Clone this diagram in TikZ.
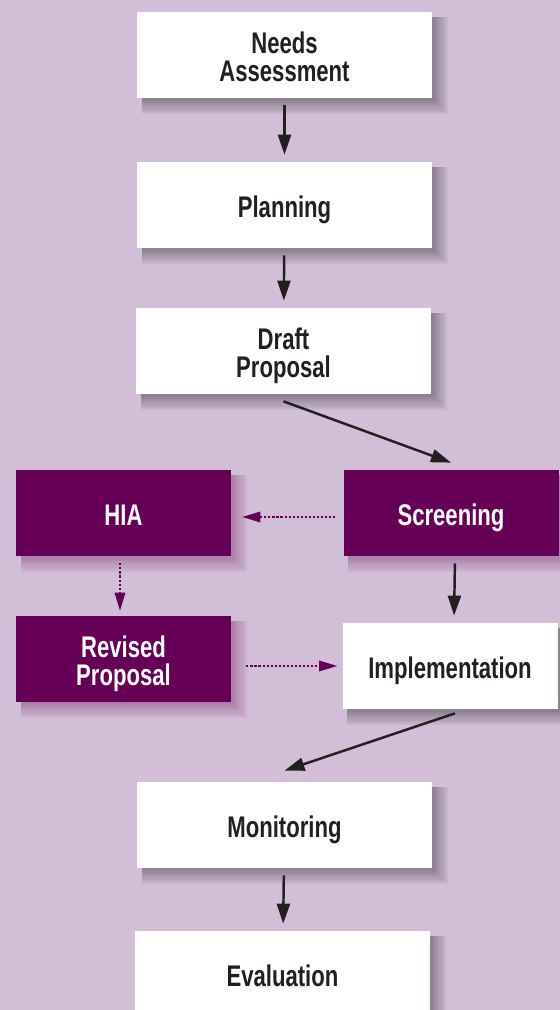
\documentclass[tikz,border=0pt]{standalone}
\usepackage{fontspec}
\setmainfont{Liberation Sans}[FakeStretch=0.74]
\usetikzlibrary{arrows.meta}
\definecolor{sfondo}{HTML}{D2BED6}
\definecolor{viola}{HTML}{660057}
\definecolor{scuro}{HTML}{231F20}
\pgfdeclarelayer{fondo}
\pgfdeclarelayer{ombre}
\pgfsetlayers{fondo,ombre,main}
\tikzset{
  fase/.style={draw=none, fill=white, text=scuro, minimum width=5.9cm, minimum height=1.72cm,
    inner sep=0pt, align=center, font=\fontsize{17}{16}\selectfont\bfseries,
    text height=0.5cm, text depth=0pt},
  duerighe/.style={text height=1.08cm},
  fasecorta/.style={fase, minimum width=4.3cm},
  fasehia/.style={fasecorta, fill=viola, text=white},
  freccia/.style={draw=scuro, line width=1.4pt, -{Triangle[length=0.4cm, width=0.26cm]},
    shorten <=0.14cm, shorten >=0.14cm},
  puntini/.style={draw=viola, line width=1.2pt, dash pattern=on 1.2pt off 1.1pt,
    -{Triangle[length=0.36cm, width=0.22cm, line width=0pt]}}
}
\begin{document}
\begin{tikzpicture}
% sfondo
\clip (0, 0) rectangle (11.2, 20.2);
\begin{pgfonlayer}{fondo}
\fill[sfondo] (0, 0) rectangle (11.2, 20.2);
\end{pgfonlayer}
% riquadri
\node[fase, duerighe] (needs) at (5.69, 19.10) {Needs\\Assessment};
\node[fase] (planning) at (5.69, 16.10) {Planning};
\node[fase, duerighe] (draft) at (5.67, 13.18) {Draft\\Proposal};
\node[fasehia] (hia) at (2.47, 9.94) {HIA};
\node[fasehia] (screening) at (9.02, 9.94) {Screening};
\node[fasehia, duerighe] (revised) at (2.47, 7.02) {Revised\\Proposal};
\node[fasecorta] (impl) at (9.00, 6.88) {Implementation};
\node[fase] (monitoring) at (5.69, 3.70) {Monitoring};
\node[fase] (evaluation) at (5.65, 0.72) {Evaluation};
% ombre
\begin{pgfonlayer}{ombre}
\foreach \n/\c in {needs/black, planning/black, draft/black, hia/viola, screening/viola,
    revised/viola, impl/black, monitoring/black, evaluation/black}
  \foreach \k in {1,...,7}
    \fill[\c, opacity=0.05] ([shift={(0.1, -0.1)}]\n.north west)
      rectangle ([shift={(0.045*\k, -0.045*\k)}]\n.south east);
\end{pgfonlayer}
% frecce
\draw[freccia] (needs) -- (planning);
\draw[freccia] (planning) -- (draft);
\draw[freccia, shorten <=0pt, shorten >=0pt] ([yshift=-0.14cm]draft.south) -- ([yshift=0.14cm]screening.north);
\draw[freccia] ([xshift=0.08cm]screening.south) -- ([xshift=0.08cm]impl.north);
\draw[freccia, shorten <=0pt, shorten >=0pt] ([xshift=0.1cm, yshift=-0.08cm]impl.south) -- ([yshift=0.22cm]monitoring.north);
\draw[freccia] (monitoring) -- (evaluation);
% percorso HIA
\draw[puntini, shorten <=0.16cm, shorten >=0.22cm] ([yshift=-0.08cm]screening.west) -- ([yshift=-0.08cm]hia.east);
\draw[puntini, shorten <=0.14cm, shorten >=0.1cm] ([xshift=-0.07cm]hia.south) -- ([xshift=-0.07cm]revised.north);
\draw[puntini, shorten <=0.3cm, shorten >=0.1cm] (revised.east |- impl.west) -- (impl.west);
\end{tikzpicture}
\end{document}
